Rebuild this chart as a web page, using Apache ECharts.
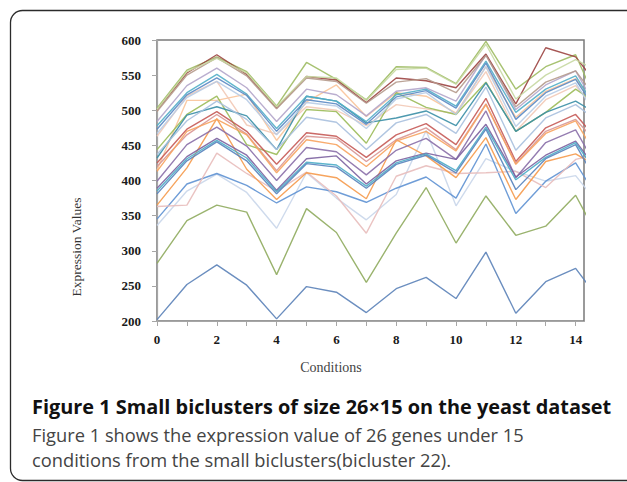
<!DOCTYPE html>
<html>
<head>
<meta charset="utf-8">
<script src="https://cdn.jsdelivr.net/npm/echarts@6/dist/echarts.min.js"></script>
<style>
html,body{margin:0;padding:0;background:#ffffff;}
#chart{width:627px;height:482px;}
</style>
</head>
<body>
<div id="chart"></div>
<script>
// Conditions (x values). Index 15 lies beyond the plot edge and is clipped.
const conditions = [0,1,2,3,4,5,6,7,8,9,10,11,12,13,14,15];
const xTickValues = [0,1,2,3,4,5,6,7,8,9,10,11,12,13,14];
const xLabelValues = [0,2,4,6,8,10,12,14];
const yTickLabels = [200,250,300,350,400,450,500,550,600];

// Expression values of the 26 genes
const gene01 = [202,252,280,251,203,249,241,212,246,262,232,298,211,256,275,218];
const gene02 = [282,343,365,355,266,360,326,255,325,390,311,378,322,335,379,300];
const gene03 = [336,385,409,383,332,411,375,344,380,471,364,431,413,399,407,353];
const gene04 = [345,395,410,393,368,391,384,369,389,405,375,452,353,399,425,357];
const gene05 = [363,365,439,410,385,412,378,325,406,421,410,411,413,390,430,440];
const gene06 = [365,418,488,416,373,411,404,374,458,435,404,461,373,427,438,413];
const gene07 = [415,514,514,523,457,512,536,491,525,520,496,562,490,527,545,490];
const gene08 = [463,520,541,479,466,505,500,478,508,502,495,555,470,515,535,485];
const gene09 = [444,494,520,451,437,501,498,453,525,504,494,540,470,497,530,501];
const gene10 = [432,493,505,492,444,520,513,482,489,499,478,539,470,497,513,488];
const gene11 = [437,485,513,487,444,490,483,444,482,494,467,533,443,489,508,476];
const gene12 = [425,473,498,470,423,468,463,433,465,481,451,517,427,475,494,444];
const gene13 = [420,465,494,466,414,463,460,427,458,475,444,509,424,470,487,440];
const gene14 = [413,470,487,465,411,458,451,420,456,470,442,508,423,467,485,414];
const gene15 = [399,451,476,449,400,447,441,408,443,460,430,499,404,454,472,397];
const gene16 = [389,434,460,436,386,431,435,395,428,439,430,480,405,436,456,400];
const gene17 = [385,431,457,432,384,426,422,392,425,438,414,476,401,433,454,393];
const gene18 = [381,428,455,428,381,424,419,389,423,436,411,473,387,431,451,376];
const gene19 = [484,535,560,532,484,530,522,492,527,532,513,579,501,536,556,481];
const gene20 = [478,525,551,523,474,520,513,484,522,530,506,570,497,530,549,481];
const gene21 = [473,522,546,521,470,515,509,480,519,528,503,567,487,525,544,480];
const gene22 = [467,518,541,515,465,511,506,474,516,525,494,562,477,520,539,471];
const gene23 = [503,557,576,555,506,568,544,515,562,561,538,598,530,562,579,483];
const gene24 = [500,553,579,551,503,548,543,511,546,542,532,580,509,589,576,522];
const gene25 = [498,550,575,549,502,546,541,510,540,545,525,578,505,540,556,500];
const gene26 = [501,555,574,553,505,548,546,514,558,560,537,594,516,550,572,550];

const genes = [gene01,gene02,gene03,gene04,gene05,gene06,gene07,gene08,gene09,gene10,gene11,gene12,gene13,
               gene14,gene15,gene16,gene17,gene18,gene19,gene20,gene21,gene22,gene23,gene24,gene25,gene26];
const geneColors = ['#5b82b8','#8fab5e','#c9d6ea','#5f92d3','#e8bcbb','#f59a4c','#f9c49a','#f2c9b6','#9bbb59',
                    '#3a8ea6','#a9c0de','#c55a57','#d99694','#f7a35f','#8a6fa8','#7c62a0','#4bacc6','#5683bd',
                    '#b3a5ca','#52aec8','#5b8ac4','#b8cce6','#9dbb62','#9c4441','#b59a8c','#c6d8a2'];

const series = genes.map((vals, k) => ({
  name: 'Gene ' + (k + 1),
  type: 'line',
  data: conditions.map((c, i) => [c, vals[i]]),
  symbol: 'none',
  clip: true,
  lineStyle: { color: geneColors[k], width: 1.4, opacity: 0.9 },
  emphasis: { disabled: true },
  animation: false
}));

const chart = echarts.init(document.getElementById('chart'), null, { renderer: 'svg' });
chart.setOption({
  animation: false,
  backgroundColor: '#ffffff',
  grid: { left: 157, right: 43, top: 40, bottom: 161, show: true, borderColor: '#7a7a7a', borderWidth: 1.5, backgroundColor: 'transparent' },
  xAxis: {
    type: 'value', min: 0, max: 14.28,
    axisLine: { show: true, lineStyle: { color: '#a6a6a6', width: 1.2 } },
    axisTick: { show: true, length: 5, inside: false, customValues: xTickValues, lineStyle: { color: '#a6a6a6' } },
    axisLabel: { customValues: xLabelValues, color: '#1a1a1a', fontFamily: 'Liberation Serif', fontWeight: 'bold', fontSize: 13, margin: 12 },
    splitLine: { show: false }
  },
  yAxis: {
    type: 'value', min: 200, max: 600, interval: 50,
    axisLine: { show: true, lineStyle: { color: '#a6a6a6', width: 1.2 } },
    axisTick: { show: true, length: 5, lineStyle: { color: '#a6a6a6' } },
    axisLabel: { color: '#1a1a1a', fontFamily: 'Liberation Serif', fontWeight: 'bold', fontSize: 13, margin: 16,
                 formatter: v => (yTickLabels.indexOf(v) >= 0 ? String(v) : '') },
    splitLine: { show: false }
  },
  graphic: [
    { type: 'rect', left: 8, top: 8, z: -1, shape: { width: 640, height: 470, r: 12 }, style: { fill: 'none', stroke: '#2b2b2b', lineWidth: 1.3 } },
    { type: 'text', x: 76, y: 247, rotation: Math.PI / 2, style: { text: 'Expression Values', fill: '#333', font: '13.5px "Liberation Serif"', align: 'center', verticalAlign: 'middle' } },
    { type: 'text', x: 331, y: 367, style: { text: 'Conditions', fill: '#444', font: '14px "Liberation Serif"', align: 'center', verticalAlign: 'middle' } },
    { type: 'text', x: 32, y: 406, style: { text: 'Figure 1 Small biclusters of size 26×15 on the yeast dataset', fill: '#111', font: 'bold 19.9px "Open Sans"', verticalAlign: 'middle' } },
    { type: 'text', x: 32, y: 434, style: { text: 'Figure 1 shows the expression value of 26 genes under 15', fill: '#444', font: '18.3px "Open Sans"', verticalAlign: 'middle' } },
    { type: 'text', x: 32, y: 459, style: { text: 'conditions from the small biclusters(bicluster 22).', fill: '#444', font: '18.3px "Open Sans"', verticalAlign: 'middle' } }
  ],
  series: series
});
</script>
</body>
</html>
